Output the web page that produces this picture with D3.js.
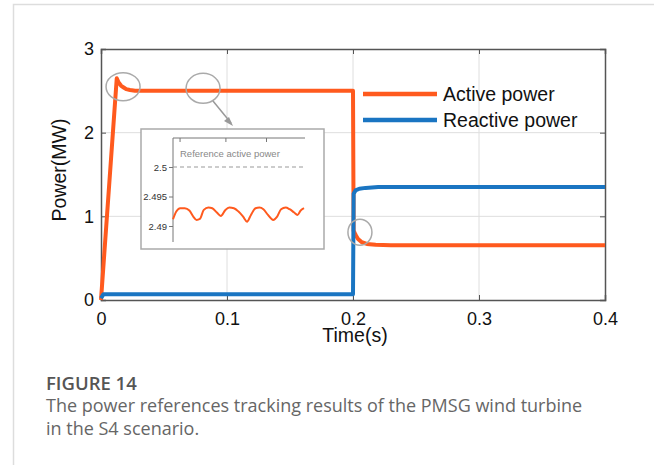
<!DOCTYPE html>
<html>
<head>
<meta charset="utf-8">
<script src="https://cdn.jsdelivr.net/npm/d3@7"></script>
<style>
  body { margin: 0; background: #fff; }
  svg { display: block; }
  .cap { font-family: "Open Sans", sans-serif; }
</style>
</head>
<body>
<div id="chart"></div>
<script>
// main traces (time in s, power in MW)
var activeT = [0, 0.0125, 0.014, 0.016, 0.018, 0.02, 0.023, 0.027, 0.03, 0.1, 0.1995, 0.2, 0.2005, 0.202, 0.204, 0.207, 0.211, 0.218, 0.23, 0.4];
var activeP = [0, 2.65, 2.6, 2.56, 2.54, 2.52, 2.51, 2.5, 2.5, 2.5, 2.5, 2.5, 0.83, 0.78, 0.73, 0.69, 0.67, 0.66, 0.655, 0.655];
var reactiveT = [0, 0.002, 0.1, 0.1998, 0.2, 0.2005, 0.202, 0.205, 0.21, 0.22, 0.4];
var reactiveP = [0.02, 0.07, 0.07, 0.07, 0.07, 1.27, 1.31, 1.33, 1.34, 1.35, 1.35];
var xTicks = [0, 0.1, 0.2, 0.3, 0.4];
var yTicks = [0, 1, 2, 3];
var seriesNames = ["Active power", "Reactive power"];
var seriesColors = ["#ff5a1e", "#1a75c2"];

// inset zoom of the active power ripple (ms offset, MW)
var rippleT = [0, 0.5, 1.1, 1.8, 2.5, 3.1, 3.6, 4.1, 4.7, 5.4, 6.0, 6.7, 7.3, 8.0, 8.6, 9.3, 10.0, 10.7, 11.3, 11.9, 12.6, 13.2, 13.8, 14.5, 15.3, 15.9, 16.5, 17.2, 17.8, 18.5, 19.0, 19.5, 20.0];
var rippleP = [2.49114, 2.49245, 2.49301, 2.49301, 2.49262, 2.49159, 2.49103, 2.4912, 2.49273, 2.49313, 2.49301, 2.49228, 2.49171, 2.49273, 2.49313, 2.49301, 2.49245, 2.49159, 2.49074, 2.49188, 2.49301, 2.49313, 2.49284, 2.49188, 2.49103, 2.49159, 2.49284, 2.49313, 2.49284, 2.49228, 2.49188, 2.49262, 2.49301];
var insetTicks = [2.49, 2.495, 2.5];
var refValue = 2.5;

var W = 654, H = 465;
var svg = d3.select("#chart").append("svg").attr("width", W).attr("height", H);

// figure frame
svg.append("path").attr("d", "M13.5,465V4.5H654").attr("fill", "none").attr("stroke", "#ddd").attr("stroke-width", 1.5);

var pL = 101, pR = 605, pT = 49, pB = 300;
var x = d3.scaleLinear().domain([0, 0.4]).range([pL, pR]);
var y = d3.scaleLinear().domain([0, 3]).range([pB, pT]);
var font = "'Liberation Sans', Arial, sans-serif";

var g = svg.append("g");

// grid
g.selectAll(".gx").data(xTicks.slice(1, -1)).enter().append("line")
  .attr("x1", d => x(d)).attr("x2", d => x(d)).attr("y1", pT).attr("y2", pB)
  .attr("stroke", "#dedede").attr("stroke-width", 1);
g.selectAll(".gy").data(yTicks.slice(1, -1)).enter().append("line")
  .attr("y1", d => y(d)).attr("y2", d => y(d)).attr("x1", pL).attr("x2", pR)
  .attr("stroke", "#dedede").attr("stroke-width", 1);

// axes with inward ticks on all four sides
g.append("g").attr("transform", `translate(0,${pB})`)
  .call(d3.axisBottom(x).tickValues(xTicks).tickSize(-5).tickPadding(12).tickFormat(d3.format("")));
g.append("g").attr("transform", `translate(0,${pT})`)
  .call(d3.axisTop(x).tickValues(xTicks).tickSize(-5).tickFormat(""));
g.append("g").attr("transform", `translate(${pL},0)`)
  .call(d3.axisLeft(y).tickValues(yTicks).tickSize(-5).tickPadding(7).tickFormat(d3.format("d")));
g.append("g").attr("transform", `translate(${pR},0)`)
  .call(d3.axisRight(y).tickValues(yTicks).tickSize(-5).tickFormat(""));
g.selectAll(".domain").attr("stroke", "#555").attr("stroke-width", 1.5);
g.selectAll(".tick line").attr("stroke", "#555");
g.selectAll(".tick text").attr("font-family", font).attr("font-size", 18).attr("fill", "#111");

// traces
var line = d3.line().x(d => x(d[0])).y(d => y(d[1]));
var activeData = d3.zip(activeT, activeP);
var reactiveData = d3.zip(reactiveT, reactiveP);
g.append("path").datum(activeData).attr("d", line)
  .attr("fill", "none").attr("stroke", seriesColors[0]).attr("stroke-width", 4).attr("stroke-linejoin", "round");
g.append("path").datum(reactiveData).attr("d", line)
  .attr("fill", "none").attr("stroke", seriesColors[1]).attr("stroke-width", 4).attr("stroke-linejoin", "round");

// highlight ellipses and arrow
var marks = [[0.0175, 2.55, 17, 14], [0.081, 2.53, 17, 15], [0.2055, 0.81, 12, 13]];
g.selectAll(".mark").data(marks).enter().append("ellipse")
  .attr("cx", d => x(d[0])).attr("cy", d => y(d[1])).attr("rx", d => d[2]).attr("ry", d => d[3])
  .attr("fill", "none").attr("stroke", "#aaa").attr("stroke-width", 1.5);
g.append("line").attr("x1", 213).attr("y1", 101).attr("x2", 231).attr("y2", 123)
  .attr("stroke", "#999").attr("stroke-width", 1.5);
g.append("path").attr("d", "M233,126 L224,121 L229,117 Z").attr("fill", "#999");

// labels
svg.append("text").attr("x", 355).attr("y", 342).attr("text-anchor", "middle")
  .attr("font-family", font).attr("font-size", 19.5).attr("fill", "#111").text("Time(s)");
svg.append("text").attr("transform", "translate(66,170) rotate(-90)").attr("text-anchor", "middle")
  .attr("font-family", font).attr("font-size", 19.5).attr("fill", "#111").text("Power(MW)");

// legend
var leg = svg.append("g").selectAll("g").data(seriesNames).enter().append("g")
  .attr("transform", (d, i) => `translate(363,${94 + i * 26})`);
leg.append("line").attr("x1", 0).attr("x2", 74).attr("stroke", (d, i) => seriesColors[i]).attr("stroke-width", 4.5);
leg.append("text").attr("x", 80).attr("y", 7).attr("font-family", font).attr("font-size", 19.5)
  .attr("fill", "#111").text(d => d);

// inset
var ins = svg.append("g");
ins.append("rect").attr("x", 141).attr("y", 129).attr("width", 183).attr("height", 120)
  .attr("fill", "#fff").attr("stroke", "#aaa").attr("stroke-width", 1.5);
var ix = d3.scaleLinear().domain([0, 20]).range([173, 304]);
var iy = d3.scaleLinear().domain([2.49, 2.5]).range([226, 167]);
ins.append("g").attr("transform", "translate(173,0)")
  .call(d3.axisLeft(iy).tickValues(insetTicks).tickSize(4).tickPadding(2).tickFormat(d3.format("")))
  .call(s => s.select(".domain").attr("d", "M0,138V242"));
ins.append("g").attr("transform", "translate(0,138)")
  .call(d3.axisBottom(ix).tickValues([1, 8, 14.2]).tickSize(4).tickFormat(""))
  .call(s => s.select(".domain").attr("d", "M173,0H305"));
ins.selectAll(".domain").attr("stroke", "#777").attr("stroke-width", 1);
ins.selectAll(".tick line").attr("stroke", "#777");
ins.selectAll(".tick text").attr("font-family", font).attr("font-size", 9.5).attr("fill", "#333");
ins.append("line").attr("x1", 173).attr("x2", 305).attr("y1", iy(refValue)).attr("y2", iy(refValue))
  .attr("stroke", "#999").attr("stroke-width", 1).attr("stroke-dasharray", "4,3");
ins.append("text").attr("x", 180).attr("y", 157).attr("font-family", font).attr("font-size", 9.5)
  .attr("fill", "#888").text("Reference active power");
var iline = d3.line().x(d => ix(d[0])).y(d => iy(d[1])).curve(d3.curveMonotoneX);
ins.append("path").datum(d3.zip(rippleT, rippleP)).attr("d", iline)
  .attr("fill", "none").attr("stroke", seriesColors[0]).attr("stroke-width", 2);

// caption
svg.append("text").attr("class", "cap").attr("x", 46).attr("y", 390).attr("font-size", 18.5)
  .attr("font-weight", 600).attr("fill", "#555").text("FIGURE 14");
svg.append("text").attr("class", "cap").attr("x", 46).attr("y", 412).attr("font-size", 18)
  .attr("fill", "#666").text("The power references tracking results of the PMSG wind turbine");
svg.append("text").attr("class", "cap").attr("x", 46).attr("y", 435).attr("font-size", 18)
  .attr("fill", "#666").text("in the S4 scenario.");
</script>
</body>
</html>
